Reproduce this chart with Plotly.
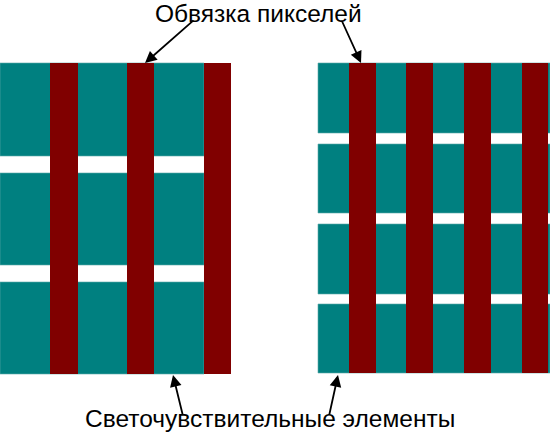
import plotly.graph_objects as go

# Left sensor: big pixels
left_row_tops = [63, 173, 282]
left_row_bottoms = [156, 265, 374]
left_cells_x = [0, 204]
left_bar_lefts = [50, 127, 204]
left_bar_rights = [78, 154, 231]
left_bar_y = [63, 374]

# Right sensor: small pixels
right_row_tops = [63, 144, 224, 304]
right_row_bottoms = [133, 213, 294, 373]
right_cells_x = [318, 550]
right_bar_lefts = [349, 406, 464, 522]
right_bar_rights = [376, 433, 491, 548]
right_bar_y = [63, 373]

top_label = "Обвязка пикселей"
bottom_label = "Светочувствительные элементы"
top_arrow_heads = [(145, 63), (361, 63)]
top_arrow_tails = [(195, 19), (341, 19)]
bottom_arrow_heads = [(173, 375), (338, 375)]
bottom_arrow_tails = [(183, 416), (329, 416)]

TEAL = "#008080"
MAROON = "#800000"

fig = go.Figure()
fig.add_trace(go.Scatter(x=[0, 550], y=[0, 434], mode="markers",
                         marker=dict(opacity=0), hoverinfo="skip", showlegend=False))

shapes = []
def rows(tops, bottoms, xs):
    for t, b in zip(tops, bottoms):
        shapes.append(dict(type="rect", xref="x", yref="y", x0=xs[0], x1=xs[1], y0=t, y1=b,
                           fillcolor=TEAL, line=dict(width=0.6, color="#5aa8a8"), layer="above"))
def bars(lefts, rights, ys):
    for l, r in zip(lefts, rights):
        shapes.append(dict(type="rect", xref="x", yref="y", x0=l, x1=r, y0=ys[0], y1=ys[1],
                           fillcolor=MAROON, line=dict(width=0), layer="above"))

rows(left_row_tops, left_row_bottoms, left_cells_x)
bars(left_bar_lefts, left_bar_rights, left_bar_y)
rows(right_row_tops, right_row_bottoms, right_cells_x)
bars(right_bar_lefts, right_bar_rights, right_bar_y)

annotations = []
for (hx, hy), (tx, ty) in zip(top_arrow_heads + bottom_arrow_heads, top_arrow_tails + bottom_arrow_tails):
    annotations.append(dict(x=hx, y=hy, ax=tx, ay=ty, xref="x", yref="y", axref="x", ayref="y",
                            text="", showarrow=True, arrowhead=2, arrowsize=1.3, arrowwidth=1.8,
                            arrowcolor="black"))
annotations.append(dict(x=258, y=13, xref="x", yref="y", text=top_label, showarrow=False,
                        font=dict(size=24.5, color="black", family="Liberation Sans")))
annotations.append(dict(x=270, y=418, xref="x", yref="y", text=bottom_label, showarrow=False,
                        font=dict(size=24.5, color="black", family="Liberation Sans")))

fig.update_layout(
    width=550, height=434, margin=dict(l=0, r=0, t=0, b=0),
    paper_bgcolor="white", plot_bgcolor="white",
    xaxis=dict(range=[0, 550], visible=False, fixedrange=True),
    yaxis=dict(range=[434, 0], visible=False, fixedrange=True),
    shapes=shapes, annotations=annotations, showlegend=False,
)
fig.write_html("out.html", config={"displayModeBar": False},
               post_script="document.body.style.margin='0';document.body.style.overflow='hidden';")
